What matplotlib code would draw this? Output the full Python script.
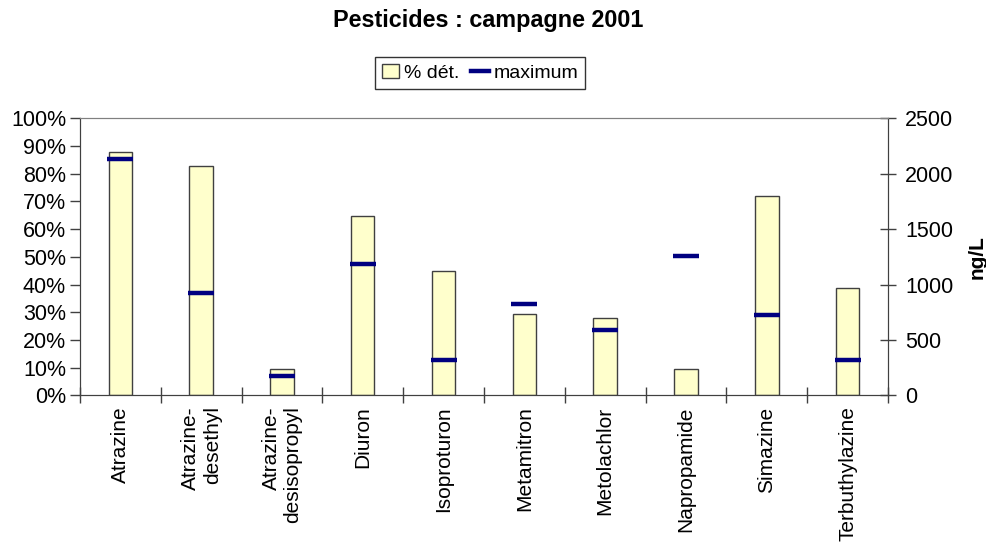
import numpy as np
import matplotlib
matplotlib.use('Agg')
import matplotlib.pyplot as plt
from matplotlib.patches import Patch
from matplotlib.lines import Line2D

plt.rcParams['font.family'] = ['Liberation Sans', 'DejaVu Sans']

# données
pesticides = ["Atrazine", "Atrazine-\ndesethyl", "Atrazine-\ndesisopropyl", "Diuron",
              "Isoproturon", "Metamitron", "Metolachlor", "Napropamide",
              "Simazine", "Terbuthylazine"]
pct_detect = [87.7, 82.9, 9.4, 64.6, 44.8, 29.2, 27.8, 9.4, 72.1, 38.6]   # %
maximum = [2130, 920, 171, 1182, 316, 821, 587, 1254, 722, 316]          # ng/L

fig = plt.figure(figsize=(9.86, 5.44), dpi=100)
ax = fig.add_axes([0.0811, 0.2733, 0.8195, 0.5092])
ax2 = ax.twinx()

x = np.arange(len(pesticides))
ax.bar(x, pct_detect, width=0.29, color='#FFFFCC', edgecolor='#404040', linewidth=1, zorder=2)
ax2.plot(x, maximum, linestyle='none', marker='_', markersize=19, markeredgewidth=3.2,
         color='#000080', zorder=3)

ax.set_xlim(-0.5, len(pesticides) - 0.5)
ax.set_ylim(0, 100)
ax2.set_ylim(0, 2500)

ax.set_yticks(np.arange(0, 101, 10))
ax.set_yticklabels([f"{v}%" for v in range(0, 101, 10)])
ax2.set_yticks(np.arange(0, 2501, 500))

ax.set_xticks(np.arange(len(pesticides) + 1) - 0.5, minor=False)
ax.set_xticklabels([])
ax.set_xticks(x, minor=True)
ax.set_xticklabels(pesticides, minor=True, rotation=90, multialignment='right', fontsize=15)
ax.tick_params(axis='x', which='minor', length=0, pad=8)
ax.tick_params(axis='x', which='major', direction='inout', length=11, width=1, color='#404040')
ax.tick_params(axis='y', direction='out', length=7, width=1, color='#404040', labelsize=15.5, pad=3)
ax2.tick_params(axis='y', direction='inout', length=11, width=1, color='#404040', labelsize=15.5, pad=7)

for a in (ax, ax2):
    for s in ('left', 'right', 'bottom'):
        a.spines[s].set_color('#404040')
    a.spines['top'].set_color('#808080')

ax2.set_ylabel("ng/L", fontsize=15, fontweight='bold', labelpad=10)

fig.text(0.495, 0.963, "Pesticides : campagne 2001", ha='center', va='center',
         fontsize=16.8, fontweight='bold')

handles = [Patch(facecolor='#FFFFCC', edgecolor='#404040', label='% dét.'),
           Line2D([0], [0], color='#000080', lw=3.2, label='maximum')]
leg = fig.legend(handles=handles, loc='center', bbox_to_anchor=(0.4868, 0.866), ncol=2,
                 fontsize=14, frameon=True, fancybox=False, edgecolor='black',
                 handlelength=0.9, handletextpad=0.25, columnspacing=0.6,
                 borderpad=0.35, borderaxespad=0)
leg.get_frame().set_linewidth(1)

fig.savefig("out.png", dpi=100)
